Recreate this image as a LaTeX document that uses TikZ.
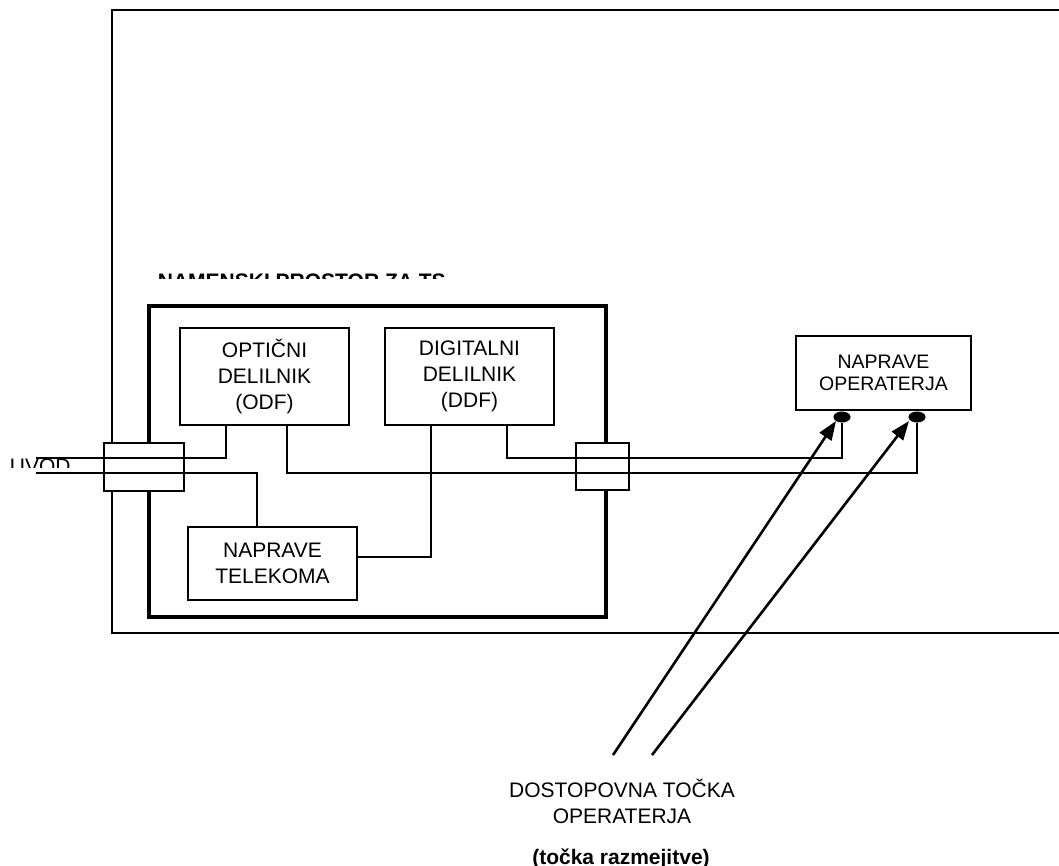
\documentclass[tikz,border=0pt]{standalone}
\usepackage{fontspec}
\setmainfont{Liberation Sans}
\usetikzlibrary{arrows.meta,shapes.geometric}
\begin{document}
\begin{tikzpicture}[x=1pt,y=-1pt,line width=1.8pt,
  txt/.style={font=\fontsize{21}{26}\selectfont},
  box/.style={draw,rectangle,inner sep=0pt,align=center,txt},
  conn/.style={draw,fill=white,rectangle,inner sep=0pt},
  dot/.style={draw,fill=black,ellipse,minimum width=16pt,minimum height=10pt,inner sep=0pt,line width=1pt},
  zonebox/.style={draw,rectangle,inner sep=0pt,line width=3.6pt},
  pointer/.style={line width=2.6pt,-{Triangle[length=19pt,width=14pt]}}]
\useasboundingbox (0,0) rectangle (1059,865);
% outer frame
\draw (1059,10) -- (112,10) -- (112,633) -- (1059,633);
% thick zone
\node[zonebox,minimum width=457pt,minimum height=311pt] (zone) at (377.5,461.5) {};
% connector boxes
\node[conn,minimum width=80pt,minimum height=48pt] (lconn) at (144,467) {};
\node[conn,minimum width=53pt,minimum height=47pt] (rconn) at (602.5,466.5) {};
% boxes
\node[box,minimum width=169pt,minimum height=97pt] (odf) at (264.5,376.5) {OPTIČNI\\DELILNIK\\(ODF)};
\node[box,minimum width=169pt,minimum height=97pt] (ddf) at (469.5,376.5) {DIGITALNI\\DELILNIK\\(DDF)};
\node[box,minimum width=169pt,minimum height=73pt] (tel) at (272.5,563.5) {NAPRAVE\\TELEKOMA};
\node[box,minimum width=175pt,minimum height=74pt,font=\fontsize{19.5}{22.5}\selectfont] (op) at (883.5,373) {NAPRAVE\\OPERATERJA};
\node[dot] (e1) at (842,417) {};
\node[dot] (e2) at (917,417) {};
% free ends
\coordinate (uvodA) at (36,458);
\coordinate (uvodB) at (36,473);
% lines
\draw (odf.south -| 226,0) |- (uvodA);
\draw (uvodB) -| (tel.north -| 257,0);
\draw (odf.south -| 287,0) |- (e2.south |- 0,473) -- (e2.south);
\draw (ddf.south -| 507,0) |- (e1.south |- 0,458) -- (e1.south);
\draw (ddf.south -| 431,0) |- (tel.east |- 0,557);
% arrows
\coordinate (a1s) at (613,755);
\coordinate (a1t) at (836,421);
\coordinate (a2s) at (652,755);
\coordinate (a2t) at (909,421);
\draw[pointer] (a1s) -- (a1t);
\draw[pointer] (a2s) -- (a2t);
% clipped texts
\begin{scope}
\clip (100,262) rectangle (500,278);
\node[anchor=base west,inner sep=0pt,font=\bfseries\fontsize{21}{26}\selectfont] (namenski) at (157,288) {NAMENSKI PROSTOR ZA TS};
\end{scope}
\begin{scope}
\clip (0,445) rectangle (100,467);
\node[anchor=base west,inner sep=0pt,txt] (uvod) at (9,473) {UVOD};
\end{scope}
\node[anchor=base,inner sep=0pt,txt] (dost1) at (622,797) {DOSTOPOVNA TOČKA};
\node[anchor=base,inner sep=0pt,txt] (dost2) at (622,823) {OPERATERJA};
\begin{scope}
\clip (0,830) rectangle (1059,865);
\node[anchor=base,inner sep=0pt,font=\bfseries\fontsize{21}{26}\selectfont] (razm) at (621,864) {(točka razmejitve)};
\end{scope}
\end{tikzpicture}
\end{document}
